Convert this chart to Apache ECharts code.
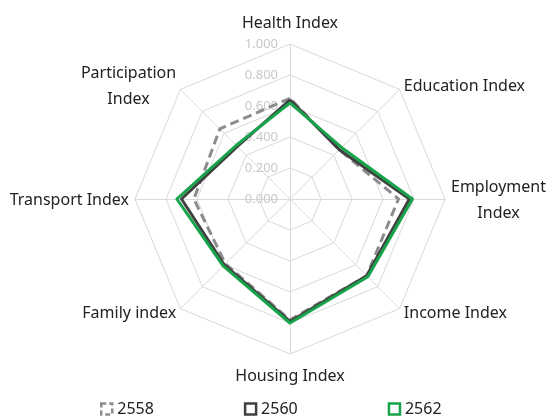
<!DOCTYPE html>
<html>
<head>
<meta charset="utf-8">
<script src="https://cdn.jsdelivr.net/npm/echarts@6/dist/echarts.min.js"></script>
<style>
  html, body { margin: 0; padding: 0; background: #ffffff; }
  #chart { width: 553px; height: 417px; }
</style>
</head>
<body>
<div id="chart"></div>
<script>
// Index names, listed clockwise from the top
var categories = [
  'Health Index', 'Education Index', 'Employment\nIndex', 'Income Index',
  'Housing Index', 'Family index', 'Transport Index', 'Participation\nIndex'
];
var years = ['2558', '2560', '2562'];
var values2558 = [0.65, 0.45, 0.70, 0.70, 0.78, 0.59, 0.62, 0.64];
var values2560 = [0.64, 0.45, 0.77, 0.70, 0.79, 0.60, 0.70, 0.48];
var values2562 = [0.62, 0.47, 0.79, 0.71, 0.80, 0.61, 0.73, 0.49];
var tickLabels = ['0.000', '0.200', '0.400', '0.600', '0.800', '1.000'];

// ECharts lays radar indicators out counter-clockwise; reverse all but the first
function ccw(arr) {
  return [arr[0]].concat(arr.slice(1).reverse());
}

var font = '"Noto Sans", "Open Sans", sans-serif';
var indicators = ccw(categories).map(function (name, i) {
  var ind = { name: name, min: 0, max: 1 };
  if (i === 0) {
    ind.axisLabel = {
      show: true,
      color: '#c8c8c8',
      fontSize: 13,
      fontFamily: font,
      margin: 12,
      formatter: function (v) {
        var idx = Math.round(v * 5);
        return tickLabels[idx] !== undefined ? tickLabels[idx] : '';
      }
    };
  }
  return ind;
});

var chart = echarts.init(document.getElementById('chart'), null, { renderer: 'canvas' });
chart.setOption({
  animation: false,
  backgroundColor: '#ffffff',
  legend: {
    top: 396,
    left: 95,
    itemGap: 90,
    itemWidth: 11,
    itemHeight: 11,
    textStyle: { color: '#222', fontSize: 16, fontFamily: font },
    data: [
      { name: years[0], icon: 'rect', itemStyle: { color: 'transparent', borderColor: '#8c8c8c', borderWidth: 2.5, borderType: [5, 3] } },
      { name: years[1], icon: 'rect', itemStyle: { color: 'transparent', borderColor: '#404040', borderWidth: 2.5 } },
      { name: years[2], icon: 'rect', itemStyle: { color: 'transparent', borderColor: '#17a34a', borderWidth: 2.5 } }
    ]
  },
  radar: {
    center: [290, 199],
    radius: 155,
    startAngle: 90,
    shape: 'polygon',
    splitNumber: 5,
    nameGap: 6,
    axisName: {
      color: '#222',
      fontSize: 16,
      fontFamily: font,
      lineHeight: 26,
      padding: [3, 0, 1, 0],
      formatter: function (name) {
        // centre each line of a wrapped name under the others
        return name.split('\n').map(function (s) { return '{c|' + s + '}'; }).join('\n');
      },
      rich: {
        c: { align: 'center', color: '#222', fontSize: 16, fontFamily: font, lineHeight: 26 }
      }
    },
    axisLine: { lineStyle: { color: '#d9d9d9', width: 1 } },
    splitLine: { lineStyle: { color: '#d9d9d9', width: 1 } },
    splitArea: { show: false },
    axisTick: { show: false },
    axisLabel: { show: false },
    indicator: indicators
  },
  series: [{
    type: 'radar',
    symbol: 'none',
    data: [
      { name: years[0], value: ccw(values2558), lineStyle: { color: '#8c8c8c', width: 3, type: [9, 5] } },
      { name: years[1], value: ccw(values2560), lineStyle: { color: '#404040', width: 3 } },
      { name: years[2], value: ccw(values2562), lineStyle: { color: '#17a34a', width: 3 } }
    ]
  }]
});
</script>
</body>
</html>
